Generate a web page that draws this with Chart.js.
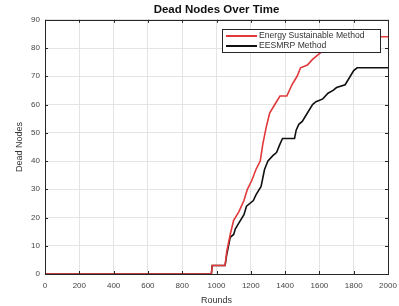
<!DOCTYPE html>
<html>
<head>
<meta charset="utf-8">
<script src="https://cdn.jsdelivr.net/npm/chart.js@4/dist/chart.umd.min.js"></script>
<style>
html,body{margin:0;padding:0;background:#fff;}
#wrap{width:399px;height:306px;}
</style>
</head>
<body>
<div id="wrap"><canvas id="c" width="399" height="306"></canvas></div>
<script>
const chartTitle = 'Dead Nodes Over Time';
const xTitle = 'Rounds';
const yTitle = 'Dead Nodes';
const seriesNames = ['Energy Sustainable Method', 'EESMRP Method'];

const esmRounds = [0, 970, 975, 1050, 1060, 1080, 1100, 1130, 1160, 1180, 1205, 1230, 1255, 1270, 1290, 1310, 1340, 1370, 1410, 1440, 1470, 1490, 1530, 1560, 1600, 1640, 1700, 1800, 1900, 2000];
const esmDead   = [0, 0, 3, 3, 8, 14, 19, 22, 26, 30, 33, 37, 40, 46, 52, 57, 60, 63, 63, 67, 70, 73, 74, 76, 78, 80, 82, 83, 84, 84];

const eesRounds = [0, 970, 975, 1050, 1060, 1080, 1100, 1110, 1130, 1160, 1175, 1215, 1230, 1260, 1280, 1300, 1330, 1350, 1370, 1385, 1455, 1465, 1480, 1500, 1530, 1560, 1580, 1620, 1650, 1680, 1700, 1750, 1780, 1800, 1820, 2000];
const eesDead   = [0, 0, 3, 3, 7, 13, 14, 16, 18, 21, 24, 26, 28, 31, 37, 40, 42, 43, 46, 48, 48, 51, 53, 54, 57, 60, 61, 62, 64, 65, 66, 67, 70, 72, 73, 73];

const xTicks = [0, 200, 400, 600, 800, 1000, 1200, 1400, 1600, 1800, 2000];
const yTicks = [0, 10, 20, 30, 40, 50, 60, 70, 80, 90];

const FONT = '"Liberation Sans", Arial, sans-serif';
const toPts = (xs, ys) => xs.map((x, i) => ({x: x, y: ys[i]}));

const boxPlugin = {
  id: 'boxPlugin',
  afterDatasetsDraw(chart) {
    const {ctx, chartArea: a, scales} = chart;
    ctx.save();
    ctx.strokeStyle = '#262626';
    ctx.lineWidth = 1;
    ctx.beginPath();
    xTicks.forEach(v => {
      const px = Math.round(scales.x.getPixelForValue(v)) + 0.5;
      ctx.moveTo(px, a.bottom); ctx.lineTo(px, a.bottom - 3);
      ctx.moveTo(px, a.top); ctx.lineTo(px, a.top + 3);
    });
    yTicks.forEach(v => {
      const py = Math.round(scales.y.getPixelForValue(v)) + 0.5;
      ctx.moveTo(a.left, py); ctx.lineTo(a.left + 3, py);
      ctx.moveTo(a.right, py); ctx.lineTo(a.right - 3, py);
    });
    ctx.stroke();
    ctx.strokeRect(Math.round(a.left) + 0.5, Math.round(a.top) + 0.5, Math.round(a.right - a.left), Math.round(a.bottom - a.top));
    // legend inside plot, top right
    const lx = Math.round(a.right) - 166, ly = Math.round(a.top) + 9, lw = 158, lh = 23;
    ctx.fillStyle = '#fff';
    ctx.fillRect(lx, ly, lw, lh);
    ctx.strokeStyle = '#262626';
    ctx.strokeRect(lx + 0.5, ly + 0.5, lw, lh);
    ctx.font = '8.6px ' + FONT;
    ctx.textBaseline = 'middle';
    chart.data.datasets.forEach((ds, i) => {
      const yy = ly + 7 + i * 10;
      ctx.strokeStyle = ds.borderColor;
      ctx.lineWidth = 2;
      ctx.beginPath(); ctx.moveTo(lx + 4, yy); ctx.lineTo(lx + 35, yy); ctx.stroke();
      ctx.fillStyle = '#333';
      ctx.fillText(ds.label, lx + 37, yy);
    });
    ctx.restore();
  }
};

new Chart(document.getElementById('c'), {
  type: 'line',
  data: {
    datasets: [
      {label: seriesNames[0], data: toPts(esmRounds, esmDead), borderColor: '#e2383a', borderWidth: 1.6, pointRadius: 0, tension: 0, fill: false},
      {label: seriesNames[1], data: toPts(eesRounds, eesDead), borderColor: '#111111', borderWidth: 1.6, pointRadius: 0, tension: 0, fill: false}
    ]
  },
  plugins: [boxPlugin],
  options: {
    responsive: false,
    animation: false,
    layout: {padding: {left: 14, right: 11, top: 0, bottom: 0}},
    plugins: {
      legend: {display: false},
      tooltip: {enabled: false},
      title: {display: true, fullSize: false, text: chartTitle, color: '#111', font: {size: 11.5, weight: 'bold', family: FONT}, padding: {top: 3, bottom: 3}, lineHeight: 1.2}
    },
    scales: {
      x: {
        type: 'linear', min: 0, max: 2000,
        afterBuildTicks: s => { s.ticks = xTicks.map(v => ({value: v})); },
        afterFit: s => { s.height = 32; s.paddingLeft = 0; s.paddingRight = 0; },
        ticks: {color: '#444', font: {size: 8, family: FONT}, padding: 7, maxRotation: 0, autoSkip: false, callback: v => String(v)},
        grid: {color: '#e4e4e4', drawTicks: false},
        border: {display: false},
        title: {display: true, text: xTitle, color: '#333', font: {size: 9, family: FONT}, padding: {top: 2, bottom: 0}}
      },
      y: {
        type: 'linear', min: 0, max: 90,
        afterBuildTicks: s => { s.ticks = yTicks.map(v => ({value: v})); },
        afterFit: s => { s.width = 31; s.paddingTop = 0; s.paddingBottom = 0; },
        ticks: {color: '#444', font: {size: 8, family: FONT}, padding: 5, autoSkip: false, callback: v => String(v)},
        grid: {color: '#e4e4e4', drawTicks: false},
        border: {display: false},
        title: {display: true, text: yTitle, color: '#333', font: {size: 9, family: FONT}, padding: {top: 0, bottom: 2}}
      }
    }
  }
});
</script>
</body>
</html>
